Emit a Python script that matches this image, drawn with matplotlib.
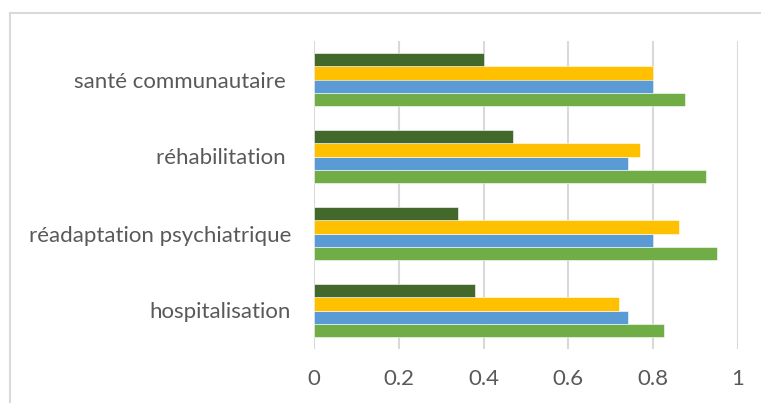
import numpy as np
import matplotlib.pyplot as plt
from matplotlib.lines import Line2D

# categories from bottom to top, series in drawing order (bottom bar first)
categories = ["hospitalisation", "réadaptation psychiatrique", "réhabilitation ", "santé communautaire "]
serie_1 = [0.825, 0.95, 0.925, 0.875]
serie_2 = [0.74, 0.80, 0.74, 0.80]
serie_3 = [0.72, 0.86, 0.77, 0.80]
serie_4 = [0.38, 0.34, 0.47, 0.40]
x_ticks = [0, 0.2, 0.4, 0.6, 0.8, 1]
x_ticklabels = ["0", "0.2", "0.4", "0.6", "0.8", "1"]

couleurs = ["#70AD47", "#5B9BD5", "#FFC000", "#43682B"]
series = [serie_1, serie_2, serie_3, serie_4]

plt.rcParams['font.family'] = ['Lato', 'DejaVu Sans']

W, H = 761, 403
fig = plt.figure(figsize=(W / 100, H / 100), dpi=100)
ax = fig.add_axes([314 / W, 54 / H, 424 / W, 308 / H])

y = np.arange(len(categories))
h = 0.172
for k, (vals, c) in enumerate(zip(series, couleurs)):
    ax.barh(y + (k - 1.5) * h, vals, height=h, color=c,
            edgecolor="white", linewidth=0.4, zorder=3)

ax.set_xlim(0, 1)
ax.set_ylim(-0.5, len(categories) - 0.5)
ax.set_xticks(x_ticks)
ax.set_xticklabels(x_ticklabels)
ax.set_yticks(y)
ax.set_yticklabels(categories)
ax.tick_params(length=0, labelsize=16, colors="#595959")
ax.tick_params(axis="x", pad=14.5)
ax.tick_params(axis="y", pad=16.5)
ax.grid(axis="x", color="#D9D9D9", linewidth=1.5, zorder=0)
for s in ax.spines.values():
    s.set_visible(False)

# cadre du graphique (coupé à droite et en bas)
x0, y0 = 10 / W, 1 - 13 / H
fig.add_artist(Line2D([x0, 1.01], [y0, y0], color="#D9D9D9", linewidth=1.5, transform=fig.transFigure))
fig.add_artist(Line2D([x0, x0], [y0, -0.01], color="#D9D9D9", linewidth=1.5, transform=fig.transFigure))

fig.savefig("out.png", dpi=100)
